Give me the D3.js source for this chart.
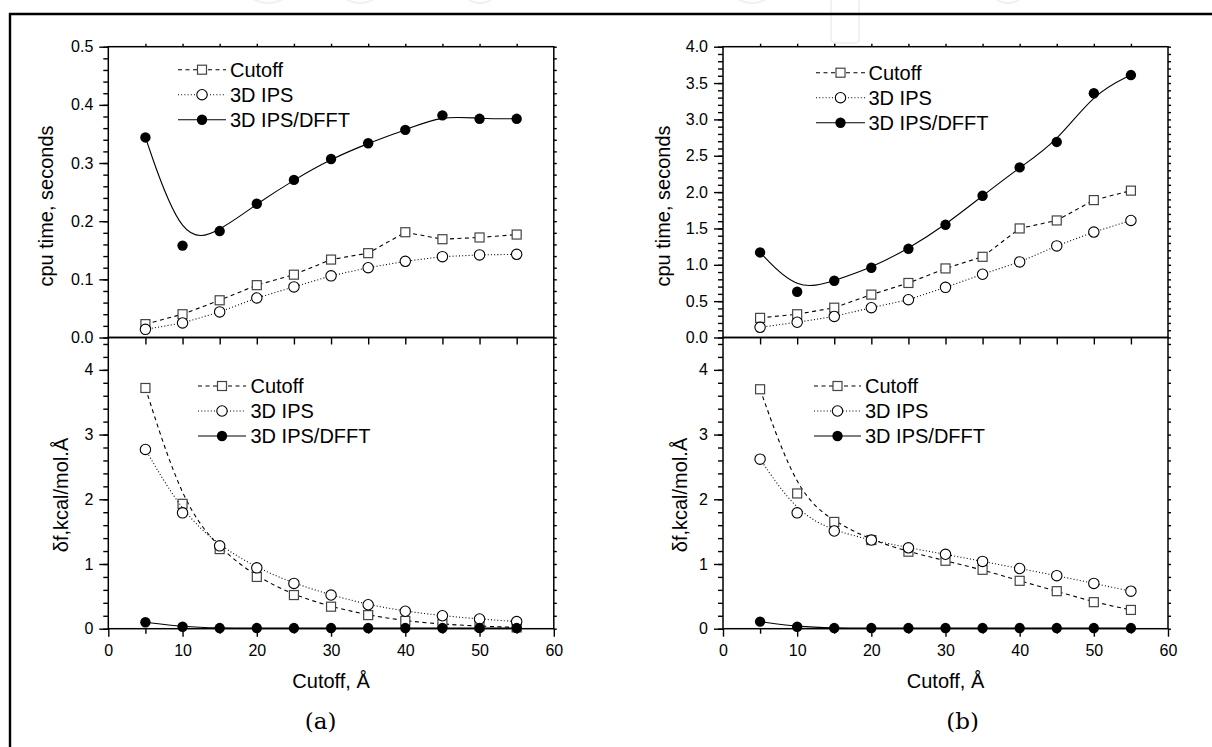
<!DOCTYPE html>
<html>
<head>
<meta charset="utf-8">
<script src="https://cdn.jsdelivr.net/npm/d3@7"></script>
<style>
  body { margin: 0; background: #fff; }
  svg { display: block; }
</style>
</head>
<body>
<svg id="chart" width="1212" height="747"></svg>
<script>
// cutoff radius, Å
const cutoffs = [5, 10, 15, 20, 25, 30, 35, 40, 45, 50, 55];

// (a) cpu time, seconds
const cpuCutoffA = [0.023, 0.040, 0.064, 0.090, 0.108, 0.134, 0.145, 0.181, 0.169, 0.172, 0.177];
const cpuIpsA    = [0.014, 0.025, 0.044, 0.068, 0.087, 0.106, 0.120, 0.131, 0.139, 0.142, 0.143];
const cpuDfftA   = [0.344, 0.158, 0.183, 0.230, 0.271, 0.307, 0.334, 0.357, 0.382, 0.376, 0.376];
// (a) force error, kcal/mol.Å
const errCutoffA = [3.72, 1.93, 1.23, 0.80, 0.52, 0.34, 0.21, 0.12, 0.07, 0.04, 0.02];
const errIpsA    = [2.77, 1.79, 1.28, 0.94, 0.70, 0.52, 0.37, 0.27, 0.20, 0.15, 0.11];
const errDfftA   = [0.10, 0.03, 0.01, 0.01, 0.01, 0.01, 0.01, 0.01, 0.01, 0.01, 0.01];

// (b) cpu time, seconds
const cpuCutoffB = [0.27, 0.32, 0.41, 0.59, 0.75, 0.95, 1.11, 1.50, 1.61, 1.89, 2.02];
const cpuIpsB    = [0.14, 0.21, 0.29, 0.41, 0.52, 0.69, 0.87, 1.04, 1.26, 1.45, 1.61];
const cpuDfftB   = [1.17, 0.63, 0.78, 0.96, 1.22, 1.55, 1.95, 2.34, 2.69, 3.36, 3.61];
// (b) force error
const errCutoffB = [3.70, 2.09, 1.65, 1.37, 1.19, 1.05, 0.91, 0.74, 0.58, 0.41, 0.29];
const errIpsB    = [2.62, 1.79, 1.51, 1.37, 1.25, 1.15, 1.04, 0.93, 0.82, 0.70, 0.58];
const errDfftB   = [0.11, 0.03, 0.01, 0.01, 0.01, 0.01, 0.01, 0.01, 0.01, 0.01, 0.01];

const seriesNames = ["Cutoff", "3D IPS", "3D IPS/DFFT"];

const xTicksMajor = [0, 10, 20, 30, 40, 50, 60];
const xTicksMinor = [5, 15, 25, 35, 45, 55];
const xTicksAll   = [5, 10, 15, 20, 25, 30, 35, 40, 45, 50, 55];

const cpuTicksA = [0, 0.1, 0.2, 0.3, 0.4, 0.5];
const cpuTicksB = [0, 0.5, 1.0, 1.5, 2.0, 2.5, 3.0, 3.5, 4.0];
const errTicks  = [0, 1, 2, 3, 4];

const FONT = "'Liberation Sans', Arial, Helvetica, sans-serif";
const svg = d3.select("#chart");

// faint watermark at the top
const wm = svg.append("g").attr("fill", "none").attr("stroke", "#f1f1f1").attr("stroke-width", 2);
[[268, 24], [360, 22], [480, 20], [752, 23], [1008, 20]].forEach(d => {
    wm.append("ellipse").attr("cx", d[0]).attr("cy", -16).attr("rx", d[1]).attr("ry", 19);
});
wm.append("rect").attr("x", 831).attr("y", -10).attr("width", 28).attr("height", 53).attr("rx", 4);

// page frame (top and left edges only)
svg.append("line").attr("x1", 9).attr("x2", 1212).attr("y1", 14).attr("y2", 14)
    .attr("stroke", "#000").attr("stroke-width", 2.4);
svg.append("line").attr("x1", 10).attr("x2", 10).attr("y1", 13).attr("y2", 747)
    .attr("stroke", "#000").attr("stroke-width", 2.4);

const styles = [
    { dash: "4,3.5", marker: "square" },
    { dash: "1,2.2", marker: "circle" },
    { dash: null,    marker: "dot" }
];

function drawMarker(g, cx, cy, type) {
    if (type === "square") {
        g.append("rect").attr("x", cx - 4.5).attr("y", cy - 4.5).attr("width", 9).attr("height", 9)
            .attr("fill", "#fff").attr("stroke", "#444").attr("stroke-width", 1.2);
    } else if (type === "circle") {
        g.append("circle").attr("cx", cx).attr("cy", cy).attr("r", 5.2)
            .attr("fill", "#fff").attr("stroke", "#000").attr("stroke-width", 1.1);
    } else {
        g.append("circle").attr("cx", cx).attr("cy", cy).attr("r", 5.2).attr("fill", "#000");
    }
}

function drawSeries(g, x, y, values, style, curve) {
    const pts = cutoffs.map((c, i) => [c, values[i]]);
    const line = d3.line().x(d => x(d[0])).y(d => y(d[1])).curve(curve);
    g.append("path")
        .attr("d", line(pts))
        .attr("fill", "none")
        .attr("stroke", "#000")
        .attr("stroke-width", 1.1)
        .attr("stroke-dasharray", style.dash);
    pts.forEach(d => drawMarker(g, x(d[0]), y(d[1]), style.marker));
}

function drawLegend(g, lg) {
    seriesNames.forEach((name, i) => {
        const yy = lg.y + i * 25;
        g.append("line").attr("x1", lg.x1).attr("x2", lg.x2).attr("y1", yy).attr("y2", yy)
            .attr("stroke", "#000").attr("stroke-width", 1.1).attr("stroke-dasharray", styles[i].dash);
        drawMarker(g, (lg.x1 + lg.x2) / 2, yy, styles[i].marker);
        g.append("text").attr("x", lg.tx).attr("y", yy).attr("dy", "0.36em")
            .style("font-family", FONT).style("font-size", "20px").text(name);
    });
}

function styleAxis(sel) {
    sel.select(".domain").remove();
    sel.selectAll("line").attr("stroke-width", 1.4);
    sel.selectAll("text").style("font-family", FONT).style("font-size", "16px").attr("fill", "#000");
}

function drawColumn(col) {
    const top = 46.7, mid = 337.5, bot = 628.7;
    const x = d3.scaleLinear().domain([0, 60]).range([col.left, col.right]);
    const yCpu = d3.scaleLinear().domain([0, col.cpuMax]).range([mid, top]);
    const yErr = d3.scaleLinear().domain([0, 4.5]).range([bot, mid]);
    const g = svg.append("g");

    // minor tick positions
    const cpuMinor = d3.range(0, col.cpuMax + 1e-9, col.cpuMinorStep);
    const errMinor = d3.range(0, 4.45, 0.2);

    // left axes
    g.append("g").attr("transform", `translate(${col.left},0)`)
        .call(d3.axisLeft(yCpu).tickValues(col.cpuTicks).tickSize(9).tickPadding(6).tickFormat(d3.format(".1f")))
        .call(styleAxis);
    g.append("g").attr("transform", `translate(${col.left},0)`)
        .call(d3.axisLeft(yCpu).tickValues(cpuMinor).tickSize(5).tickFormat(""))
        .call(styleAxis);
    g.append("g").attr("transform", `translate(${col.left},0)`)
        .call(d3.axisLeft(yErr).tickValues(errTicks).tickSize(9).tickPadding(6).tickFormat(d3.format("d")))
        .call(styleAxis);
    g.append("g").attr("transform", `translate(${col.left},0)`)
        .call(d3.axisLeft(yErr).tickValues(errMinor).tickSize(5).tickFormat(""))
        .call(styleAxis);

    // right mirror ticks
    g.append("g").attr("transform", `translate(${col.right},0)`)
        .call(d3.axisRight(yCpu).tickValues(cpuMinor).tickSize(3).tickFormat(""))
        .call(styleAxis);
    g.append("g").attr("transform", `translate(${col.right},0)`)
        .call(d3.axisRight(yErr).tickValues(errMinor).tickSize(3).tickFormat(""))
        .call(styleAxis);

    // top mirror ticks, divider ticks, bottom axis
    g.append("g").attr("transform", `translate(0,${top})`)
        .call(d3.axisTop(x).tickValues(xTicksAll).tickSize(3).tickFormat(""))
        .call(styleAxis);
    g.append("g").attr("transform", `translate(0,${mid})`)
        .call(d3.axisBottom(x).tickValues(xTicksAll).tickSize(7).tickFormat(""))
        .call(styleAxis);
    g.append("g").attr("transform", `translate(0,${bot})`)
        .call(d3.axisBottom(x).tickValues(xTicksMajor).tickSize(8).tickPadding(8))
        .call(styleAxis);
    g.append("g").attr("transform", `translate(0,${bot})`)
        .call(d3.axisBottom(x).tickValues(xTicksMinor).tickSize(5).tickFormat(""))
        .call(styleAxis);

    // panel frames
    g.append("rect").attr("x", col.left).attr("y", top).attr("width", col.right - col.left).attr("height", mid - top)
        .attr("fill", "none").attr("stroke", "#000").attr("stroke-width", 1.5);
    g.append("rect").attr("x", col.left).attr("y", mid).attr("width", col.right - col.left).attr("height", bot - mid)
        .attr("fill", "none").attr("stroke", "#000").attr("stroke-width", 1.5);

    // series
    drawSeries(g, x, yCpu, col.cpu[0], styles[0], d3.curveLinear);
    drawSeries(g, x, yCpu, col.cpu[1], styles[1], d3.curveLinear);
    drawSeries(g, x, yCpu, col.cpu[2], styles[2], d3.curveBasis);
    drawSeries(g, x, yErr, col.err[0], styles[0], d3.curveBasis);
    drawSeries(g, x, yErr, col.err[1], styles[1], d3.curveBasis);
    drawSeries(g, x, yErr, col.err[2], styles[2], d3.curveBasis);

    drawLegend(g, col.legTop);
    drawLegend(g, col.legBot);

    // axis titles
    g.append("text").attr("transform", `translate(${col.cpuLabelX},206) rotate(-90)`)
        .attr("text-anchor", "middle").style("font-family", FONT).style("font-size", "20px")
        .text("cpu time, seconds");
    g.append("text").attr("transform", `translate(${col.errLabelX},495) rotate(-90)`)
        .attr("text-anchor", "middle").style("font-family", FONT).style("font-size", "20px")
        .text("δf,kcal/mol.Å");
    g.append("text").attr("x", (col.left + col.right) / 2).attr("y", 688)
        .attr("text-anchor", "middle").style("font-family", FONT).style("font-size", "20px")
        .text("Cutoff, Å");
    g.append("text").attr("x", col.tagX).attr("y", 729)
        .attr("text-anchor", "middle").style("font-family", "'DejaVu Serif', 'Liberation Serif', serif")
        .style("font-size", "23px").text(col.tag);
}

drawColumn({
    left: 108.3, right: 553.8,
    cpuMax: 0.5, cpuTicks: cpuTicksA, cpuMinorStep: 0.02,
    cpu: [cpuCutoffA, cpuIpsA, cpuDfftA],
    err: [errCutoffA, errIpsA, errDfftA],
    legTop: { x1: 178, x2: 226, y: 69.7, tx: 230 },
    legBot: { x1: 198, x2: 246, y: 386, tx: 250.5 },
    cpuLabelX: 53, errLabelX: 68,
    tagX: 320.7, tag: "(a)"
});

drawColumn({
    left: 723, right: 1168,
    cpuMax: 4.0, cpuTicks: cpuTicksB, cpuMinorStep: 0.1,
    cpu: [cpuCutoffB, cpuIpsB, cpuDfftB],
    err: [errCutoffB, errIpsB, errDfftB],
    legTop: { x1: 816, x2: 865, y: 72.7, tx: 868.5 },
    legBot: { x1: 814, x2: 861, y: 386, tx: 865 },
    cpuLabelX: 670, errLabelX: 687,
    tagX: 962.6, tag: "(b)"
});
</script>
</body>
</html>
